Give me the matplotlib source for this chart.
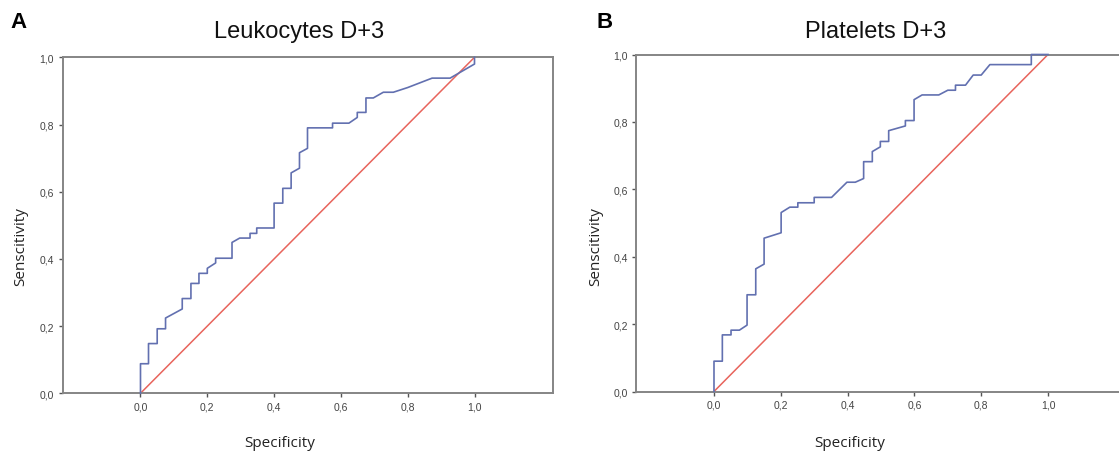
import matplotlib.pyplot as plt
import numpy as np

# ROC curve vertices (1 - specificity on x, sensitivity on y)
spec_a = [0.0, 0.0, 0.024, 0.024, 0.050, 0.050, 0.075, 0.075, 0.125, 0.125, 0.151, 0.151,
          0.175, 0.175, 0.200, 0.200, 0.225, 0.225, 0.274, 0.274, 0.297, 0.328, 0.328,
          0.348, 0.348, 0.400, 0.400, 0.426, 0.426, 0.451, 0.451, 0.476, 0.476, 0.500,
          0.500, 0.575, 0.575, 0.624, 0.649, 0.649, 0.675, 0.675, 0.697, 0.727, 0.757,
          0.800, 0.873, 0.927, 1.0, 1.0]
sens_a = [0.0, 0.088, 0.088, 0.148, 0.148, 0.192, 0.192, 0.224, 0.251, 0.282, 0.282, 0.327,
          0.327, 0.357, 0.357, 0.372, 0.388, 0.402, 0.402, 0.449, 0.462, 0.462, 0.476,
          0.476, 0.492, 0.492, 0.566, 0.566, 0.610, 0.610, 0.656, 0.670, 0.716, 0.729,
          0.790, 0.790, 0.804, 0.804, 0.821, 0.836, 0.836, 0.879, 0.879, 0.896, 0.896,
          0.910, 0.938, 0.938, 0.980, 1.0]

spec_b = [0.0, 0.0, 0.025, 0.025, 0.051, 0.051, 0.076, 0.099, 0.099, 0.125, 0.125, 0.150,
          0.150, 0.201, 0.201, 0.227, 0.251, 0.251, 0.300, 0.300, 0.352, 0.398, 0.423,
          0.448, 0.448, 0.474, 0.474, 0.498, 0.498, 0.523, 0.523, 0.573, 0.573, 0.599,
          0.599, 0.623, 0.673, 0.700, 0.723, 0.723, 0.753, 0.776, 0.800, 0.826, 0.950,
          0.950, 1.0]
sens_b = [0.0, 0.090, 0.090, 0.168, 0.168, 0.182, 0.182, 0.197, 0.287, 0.287, 0.364, 0.378,
          0.455, 0.471, 0.531, 0.547, 0.547, 0.560, 0.560, 0.576, 0.576, 0.621, 0.621,
          0.632, 0.682, 0.682, 0.712, 0.726, 0.742, 0.742, 0.774, 0.788, 0.804, 0.804,
          0.866, 0.880, 0.880, 0.894, 0.894, 0.909, 0.909, 0.939, 0.939, 0.970, 0.970,
          1.0, 1.0]

ticks = [0.0, 0.2, 0.4, 0.6, 0.8, 1.0]
tick_labels = ["0,0", "0,2", "0,4", "0,6", "0,8", "1,0"]

panels = [
    ("A", "Leukocytes D+3", spec_a, sens_a),
    ("B", "Platelets D+3", spec_b, sens_b),
]

W, H = 1119, 456
fig = plt.figure(figsize=(W / 100, H / 100), dpi=100)

# axes boxes in pixels: left, top, bottom
boxes = [(62.5, 58.3, 394.3), (636.0, 55.5, 392.5)]
ax_w = 490.5
title_x = [299, 876]
letter_x = [10, 597]
ylabel_x = [21, 596]
xlabel_x = [280, 850]

blue = "#6270b0"
red = "#e8645c"
spine_col = "#858585"

for i, (letter, title, xs, ys) in enumerate(panels):
    left, top, bottom = boxes[i]
    ax = fig.add_axes([left / W, (H - bottom) / H, ax_w / W, (bottom - top) / H])
    ax.plot([0, 1], [0, 1], color=red, lw=1.1, zorder=2)
    ax.plot(xs, ys, color=blue, lw=1.2, zorder=3, clip_on=False)
    ax.set_xlim(-0.2335, 1.235)
    ax.set_ylim(0, 1)
    ax.set_xticks(ticks)
    ax.set_xticklabels(tick_labels)
    ax.set_yticks(ticks)
    ax.set_yticklabels(tick_labels)
    ax.tick_params(direction="out", length=3, width=1.0, color="#555555",
                   labelsize=7.5, labelcolor="#444444", pad=3)
    for lbl in ax.get_xticklabels() + ax.get_yticklabels():
        lbl.set_family("Liberation Sans")
    for sp in ax.spines.values():
        sp.set_color(spine_col)
        sp.set_linewidth(1.4)

    fig.text(title_x[i] / W, 1 - 32 / H, title, ha="center", va="center",
             fontsize=17, family="Liberation Sans", color="#111111")
    fig.text(letter_x[i] / W, 1 - 22 / H, letter, ha="left", va="center",
             fontsize=16, fontweight="bold", family="Liberation Sans")
    fig.text(ylabel_x[i] / W, 1 - 247 / H, "Senscitivity", rotation=90,
             ha="center", va="center", fontsize=11, family="Open Sans", color="#222222")
    fig.text(xlabel_x[i] / W, 1 - 444 / H, "Specificity", ha="center", va="center",
             fontsize=11, family="Open Sans", color="#222222")

fig.savefig("out.png", dpi=100)
